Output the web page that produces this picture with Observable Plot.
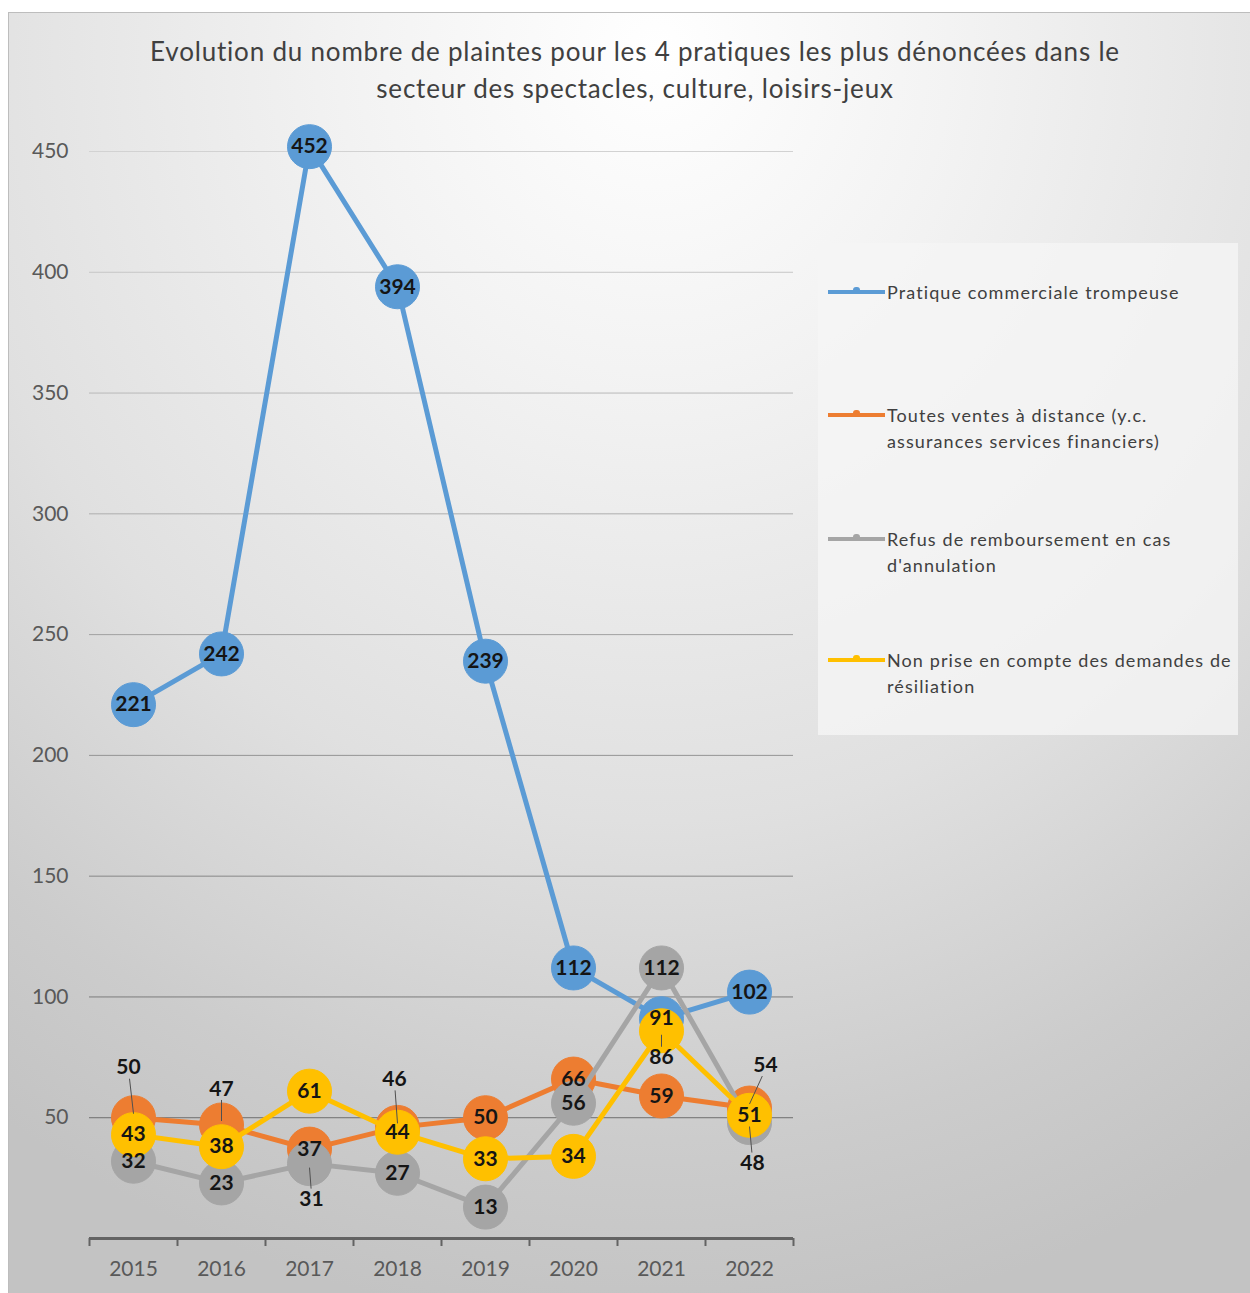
<!DOCTYPE html>
<html>
<head>
<meta charset="utf-8">
<script src="https://cdn.jsdelivr.net/npm/d3@7"></script>
<script src="https://cdn.jsdelivr.net/npm/@observablehq/plot@0.6"></script>
<style>
  html, body { margin: 0; padding: 0; background: #ffffff; }
  #page { position: relative; width: 1250px; height: 1293px; overflow: hidden; background: #fff; font-family: Lato, "Liberation Sans", sans-serif; }
  #panel { position: absolute; left: 8px; top: 12px; width: 1242px; height: 1281px;
    border-left: 1.5px solid #bdbdbd; border-top: 1.5px solid #bdbdbd;
    background: radial-gradient(ellipse 95% 100% at 52% 3%, #ffffff 0%, #f3f3f3 25%, #e0e0e0 60%, #cccccc 85%, #c3c3c3 100%); }
  #title { position: absolute; left: 0; width: 1270px; top: 33px; text-align: center; font-size: 26px; line-height: 37px; color: #404040; letter-spacing: 0.8px; }
  #chart { position: absolute; left: 0; top: 0; }
  #legend { position: absolute; left: 818px; top: 243px; width: 420px; height: 492px; background: rgba(245,245,245,0.8); }
  .entry { position: absolute; left: 0; width: 420px; }
  .swatch { position: absolute; left: 10px; width: 57px; height: 4px; }
  .swatch i { position: absolute; left: 25px; top: -3px; width: 7px; height: 6px; border-radius: 3px 3px 0 0; }
  .ltext { position: absolute; left: 69px; font-size: 18px; line-height: 26px; color: #404040; white-space: nowrap; letter-spacing: 1.1px; }
</style>
</head>
<body>
<div id="page">
  <div id="panel"></div>
  <div id="title">Evolution du nombre de plaintes pour les 4 pratiques les plus dénoncées dans le<br>secteur des spectacles, culture, loisirs-jeux</div>
  <div id="chart"></div>
  <div id="legend"></div>
</div>
<script>
// ---- data ----
const years = [2015, 2016, 2017, 2018, 2019, 2020, 2021, 2022];
const seriesNames = [
  "Pratique commerciale trompeuse",
  "Toutes ventes à distance (y.c. assurances services financiers)",
  "Refus de remboursement en cas d'annulation",
  "Non prise en compte des demandes de résiliation"
];
const legendLines = [
  ["Pratique commerciale trompeuse"],
  ["Toutes ventes à distance (y.c.", "assurances services financiers)"],
  ["Refus de remboursement en cas", "d'annulation"],
  ["Non prise en compte des demandes de", "résiliation"]
];
const tromperieValues = [221, 242, 452, 394, 239, 112, 91, 102];
const distanceValues = [50, 47, 37, 46, 50, 66, 59, 54];
const remboursementValues = [32, 23, 31, 27, 13, 56, 112, 48];
const resiliationValues = [43, 38, 61, 44, 33, 34, 86, 51];
const yTicks = [50, 100, 150, 200, 250, 300, 350, 400, 450];
const seriesColors = ["#5B9BD5", "#ED7D31", "#A5A5A5", "#FFC000"];

// label nudges (pixels) for labels not centred on their marker: "series-year": [dx, dy]
const labelNudges = {
  "1-2015": [-5, -50], "1-2016": [0, -36], "2-2017": [2, 36], "1-2018": [-3, -48],
  "3-2021": [0, 27], "1-2022": [16, -43], "2-2022": [3, 41]
};

// ---- layout ----
const W = 1250, H = 1293, mTop = 151, mBottom = 55, mLeft = 89, mRight = 457;
const yMax = 450;
const allValues = [tromperieValues, distanceValues, remboursementValues, resiliationValues];
const data = years.flatMap((yr, i) => allValues.map((vals, s) => ({year: yr, value: vals[i], s, key: s + "-" + yr})));
const boundaries = [...years.map(y => y - 0.5), years[years.length - 1] + 0.5];

const uy = yMax / (H - mTop - mBottom);
const ux = 1 / ((W - mLeft - mRight) / years.length);

const gridColor = d3.scaleLinear().domain([50, 450]).range(["#6f6f6f", "#d2d2d2"]).interpolate(d3.interpolateRgb);

const marks = [
  Plot.ruleY(yTicks, {stroke: d => gridColor(d), strokeWidth: 1}),
  Plot.ruleY([0], {stroke: "#636363", strokeWidth: 3}),
  Plot.axisX({ticks: boundaries, tickSize: 8, tickFormat: () => "", stroke: "#636363", strokeWidth: 2, label: null}),
  Plot.axisX({ticks: years, tickSize: 0, tickPadding: 23, tickFormat: d => String(d), fill: "#595959", fontSize: 21, label: null}),
  Plot.axisY({ticks: yTicks, tickSize: 0, tickPadding: 21, tickFormat: d => String(d), fill: "#595959", fontSize: 21, label: null})
];
for (let s = 0; s < seriesNames.length; s++) {
  const sd = data.filter(d => d.s === s);
  marks.push(Plot.line(sd, {x: "year", y: "value", stroke: seriesColors[s], strokeWidth: 5}));
  marks.push(Plot.dot(sd, {x: "year", y: "value", r: 22, fill: seriesColors[s], stroke: seriesColors[s], strokeWidth: 1}));
}
const nudged = data.filter(d => labelNudges[d.key]);
marks.push(Plot.link(nudged, {
  x1: d => d.year + labelNudges[d.key][0] * 0.8 * ux,
  y1: d => { const [, dy] = labelNudges[d.key]; return d.value - (dy - Math.sign(dy) * 11) * uy; },
  x2: d => d.year,
  y2: d => { const [, dy] = labelNudges[d.key]; return d.value - Math.sign(dy) * 4 * uy; },
  stroke: "#505050", strokeWidth: 1
}));
marks.push(Plot.text(data.filter(d => !labelNudges[d.key]), {
  x: "year", y: "value", text: d => String(d.value), fontWeight: "bold", fontSize: 21, fill: "#151515"
}));
for (const d of nudged) {
  const [dx, dy] = labelNudges[d.key];
  marks.push(Plot.text([d], {x: "year", y: "value", text: v => String(v.value), dx, dy, fontWeight: "bold", fontSize: 21, fill: "#151515"}));
}

const chart = Plot.plot({
  width: W, height: H,
  marginTop: mTop, marginBottom: mBottom, marginLeft: mLeft, marginRight: mRight,
  x: {type: "linear", domain: [boundaries[0], boundaries[boundaries.length - 1]], label: null},
  y: {domain: [0, yMax], label: null},
  color: {type: "identity"},
  style: {background: "transparent", fontFamily: "Lato, 'Liberation Sans', sans-serif", fontSize: "21px", overflow: "visible"},
  marks
});
document.getElementById("chart").appendChild(chart);

// ---- legend ----
const legend = document.getElementById("legend");
const entryTops = [36, 159, 283, 404];
legendLines.forEach((lines, i) => {
  const e = document.createElement("div");
  e.className = "entry";
  e.style.top = entryTops[i] + "px";
  const sw = document.createElement("div");
  sw.className = "swatch";
  sw.style.top = "11px";
  sw.style.background = seriesColors[i];
  const mk = document.createElement("i");
  mk.style.background = seriesColors[i];
  sw.appendChild(mk);
  const t = document.createElement("div");
  t.className = "ltext";
  t.style.top = "0px";
  t.innerHTML = lines.join("<br>");
  e.appendChild(sw); e.appendChild(t);
  legend.appendChild(e);
});
</script>
</body>
</html>
